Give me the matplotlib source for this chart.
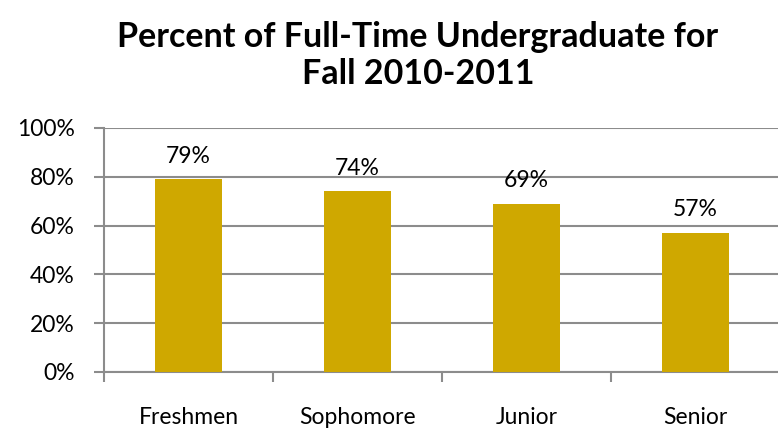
import matplotlib.pyplot as plt
import numpy as np

# data
clases = ['Freshmen', 'Sophomore', 'Junior', 'Senior']
porcentajes = [79, 74, 69, 57]
yticks = [0, 20, 40, 60, 80, 100]

plt.rcParams['font.family'] = ['Lato', 'DejaVu Sans']

fig = plt.figure(figsize=(7.78, 4.30), dpi=100)
ax = fig.add_axes([104 / 778, 58 / 430, 676 / 778, 244 / 430])

x = np.arange(len(clases))
ax.bar(x, porcentajes, width=0.4, color='#CFA800', zorder=3)

for xi, v in zip(x, porcentajes):
    ax.text(xi, v + 5.2, f'{v}%', ha='center', va='bottom', fontsize=16.5)

ax.set_xlim(-0.5, len(clases) - 0.5)
ax.set_ylim(0, 100)
ax.set_yticks(yticks)
ax.set_yticklabels([f'{t}%' for t in yticks], fontsize=16.5)
ax.yaxis.grid(True, color='#8c8c8c', linewidth=1.5, zorder=0)

# category labels centered, ticks between categories
ax.set_xticks(np.arange(len(clases) + 1) - 0.5)
ax.set_xticklabels([])
ax.set_xticks(x, minor=True)
ax.set_xticklabels(clases, minor=True, fontsize=16.5)
ax.tick_params(axis='x', which='minor', length=0, pad=25)
ax.tick_params(axis='x', which='major', length=7, color='#8c8c8c', width=1.5)
ax.tick_params(axis='y', length=7, color='#8c8c8c', width=1.5, pad=14)

for s in ['top', 'right']:
    ax.spines[s].set_visible(False)
for s in ['left', 'bottom']:
    ax.spines[s].set_color('#8c8c8c')
    ax.spines[s].set_linewidth(1.5)

fig.text(0.537, 0.952, 'Percent of Full-Time Undergraduate for\nFall 2010-2011',
         ha='center', va='top', fontsize=24.5, fontweight='bold', linespacing=1.2)

fig.savefig('out.png', dpi=100)
